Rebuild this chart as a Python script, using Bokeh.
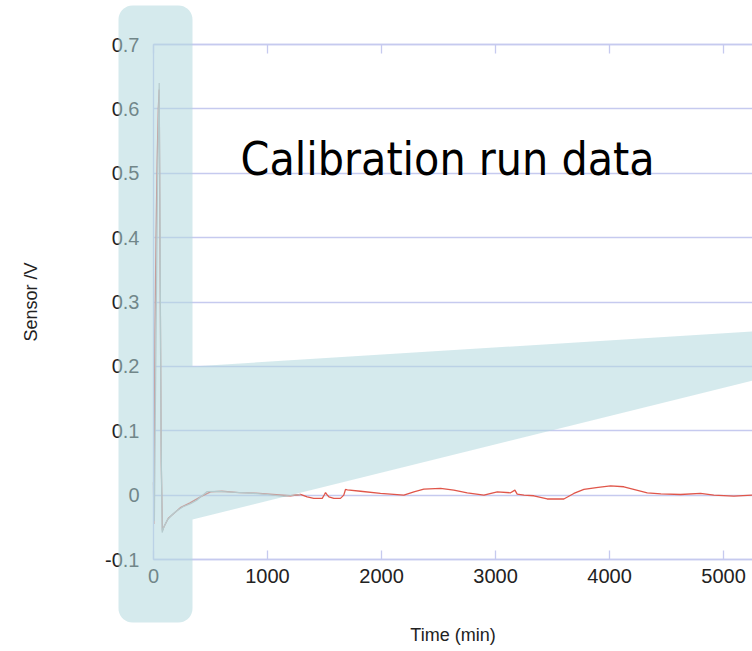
import numpy as np
from bokeh.plotting import figure
from bokeh.models import (LinearAxis, FixedTicker, PolyAnnotation, BoxAnnotation,
                          Label, Range1d)
from bokeh.embed import file_html
from bokeh.resources import INLINE

# ---------------- data ----------------
gray_time = [0, 8, 20, 35, 50, 58, 66, 76, 90, 120, 160, 208, 260, 325, 380,
             412, 471, 558, 702, 851, 997, 1140, 1289]
gray_sensor = [0.02, -0.04, 0.20, 0.48, 0.64, 0.40, 0.10, -0.058, -0.050, -0.039,
               -0.031, -0.024, -0.018, -0.0135, -0.008, -0.003, 0.0056, 0.006,
               0.0045, 0.003, 0.001, -0.002, 0.001]

red_time = [0, 3, 12, 22, 32, 42, 50, 58, 68, 78, 95, 130, 180, 240, 320, 420,
            500, 600, 750, 900, 1050, 1200, 1289, 1348, 1406, 1480, 1500, 1509,
            1525, 1538, 1582, 1640, 1669, 1684, 1700, 1816, 1991, 2196, 2284,
            2371, 2518, 2634, 2752, 2898, 3015, 3132, 3170, 3190, 3250, 3336,
            3453, 3599, 3687, 3775, 3900, 4009, 4126, 4331, 4450, 4623, 4798,
            4915, 5091, 5254]
red_sensor = [0.02, -0.045, 0.25, 0.40, 0.52, 0.60, 0.63, 0.35, 0.05, -0.055,
              -0.048, -0.036, -0.028, -0.019, -0.012, -0.002, 0.005, 0.006,
              0.004, 0.003, 0.001, -0.001, 0.001, -0.0026, -0.005, -0.005, 0.001,
              0.004, 0.0, -0.0026, -0.005, -0.005, 0.0, 0.0088, 0.008, 0.006,
              0.0026, 0.0, 0.005, 0.0093, 0.0104, 0.0078, 0.0036, 0.0, 0.005,
              0.0036, 0.0078, 0.0015, 0.0, -0.001, -0.006, -0.006, 0.0026, 0.0088,
              0.012, 0.0145, 0.013, 0.0036, 0.002, 0.001, 0.0026, 0.0, -0.0015, 0.0]

x_ticks = [0, 1000, 2000, 3000, 4000, 5000]
x_tick_labels = ["0", "1000", "2000", "3000", "4000", "5000"]
y_ticks = [-0.1, 0, 0.1, 0.2, 0.3, 0.4, 0.5, 0.6, 0.7]
y_tick_labels = ["-0.1", "0", "0.1", "0.2", "0.3", "0.4", "0.5", "0.6", "0.7"]

title_text = "Calibration run data"
x_label = "Time (min)"
y_label = "Sensor /V"

# ---------------- layout constants ----------------
GRID = "#c6caef"
TEXT = "#222222"
FONT = "Liberation Sans"
W, H = 752, 651
X0, X1 = 0, 5254            # visible data extent of the chart area
Y0, Y1 = -0.1, 0.7
FL, FT, FB = 153, 44, 559   # pixel position of chart area edges
PX_X = (W - FL) / (X1 - X0)
PX_Y = (FB - FT) / (Y1 - Y0)

# the frame covers the whole canvas so that the highlight may leave the axes area
p = figure(width=W, height=H, output_backend="svg", toolbar_location=None,
           x_range=Range1d(X0 - FL / PX_X, X1),
           y_range=Range1d(Y0 - (H - FB) / PX_Y, Y1 + FT / PX_Y),
           min_border=0)
p.outline_line_color = None
p.background_fill_color = "white"
p.border_fill_color = "white"

p.xgrid.visible = False
yg = p.ygrid[0]
yg.ticker = FixedTicker(ticks=y_ticks)
yg.grid_line_color = GRID
yg.grid_line_width = 1.3
if "cross_bounds" in yg.properties():
    yg.cross_bounds = (X0, X1)
else:
    p.add_layout(BoxAnnotation(left=X0 - FL / PX_X, right=X0,
                               bottom=Y0 - (H - FB) / PX_Y, top=Y1 + FT / PX_Y,
                               fill_color="white", fill_alpha=1.0, line_color=None,
                               level="underlay"))

# bottom axis
xa = p.xaxis[0]
xa.fixed_location = Y0
xa.bounds = (X0, X1)
xa.ticker = FixedTicker(ticks=x_ticks)
xa.major_label_overrides = dict(zip(x_ticks, x_tick_labels))
xa.axis_line_color = GRID
xa.axis_line_width = 1.3
xa.major_tick_line_color = GRID
xa.major_tick_line_width = 1.3
xa.major_tick_in = 9
xa.major_tick_out = 0
xa.minor_tick_line_color = None
xa.major_label_text_font = FONT
xa.major_label_text_font_size = "20px"
xa.major_label_text_color = TEXT
xa.major_label_standoff = 9
xa.axis_label = x_label
xa.axis_label_text_font = FONT
xa.axis_label_text_font_size = "18px"
xa.axis_label_text_font_style = "normal"
xa.axis_label_text_color = TEXT
xa.axis_label_standoff = 39

# left axis
ya = p.yaxis[0]
ya.fixed_location = X0
ya.bounds = (Y0, Y1)
ya.ticker = FixedTicker(ticks=y_ticks)
ya.major_label_overrides = dict(zip(y_ticks, y_tick_labels))
ya.axis_line_color = GRID
ya.axis_line_width = 1.3
ya.major_tick_line_color = GRID
ya.major_tick_in = 0
ya.major_tick_out = 0
ya.minor_tick_line_color = None
ya.major_label_text_font = FONT
ya.major_label_text_font_size = "20px"
ya.major_label_text_color = TEXT
ya.major_label_standoff = 14
ya.axis_label = y_label
ya.axis_label_text_font = FONT
ya.axis_label_text_font_size = "18px"
ya.axis_label_text_font_style = "normal"
ya.axis_label_text_color = TEXT
ya.axis_label_standoff = 61

# top axis line with inward ticks, no labels
top = LinearAxis(ticker=FixedTicker(ticks=x_ticks), fixed_location=Y1, bounds=(X0, X1),
                 axis_line_color=GRID, axis_line_width=1.3,
                 major_tick_line_color=GRID, major_tick_line_width=1.3,
                 major_tick_in=9, major_tick_out=0, minor_tick_line_color=None,
                 major_label_text_color=None, major_label_text_font_size="10px",
                 major_label_standoff=0)
p.add_layout(top, "above")

# data lines
p.line(red_time, red_sensor, line_color="#e0564a", line_width=1.3)
p.line(gray_time, gray_sensor, line_color="#b8b8b8", line_width=1.2)

# highlight box (rounded) with its callout, as one shape
FILL = "#b3d8de"
ALPHA = 0.55
box_left, box_right = X0 - 35 / PX_X, X0 + 39 / PX_X
box_top, box_bottom = Y1 + 39 / PX_Y, Y0 - 63 / PX_Y
rx, ry = 14 / PX_X, 14 / PX_Y
corners = [(box_right - rx, box_top - ry, 0.0), (box_left + rx, box_top - ry, 0.5 * np.pi),
           (box_left + rx, box_bottom + ry, np.pi), (box_right - rx, box_bottom + ry, 1.5 * np.pi)]
bx, by = [], []
for cx, cy, a0 in corners:
    ang = a0 + np.linspace(0, 0.5 * np.pi, 10)
    bx += list(cx + rx * np.cos(ang))
    by += list(cy + ry * np.sin(ang))
# callout wedge from the box's right side to the right edge
bx += [box_right, X1, X1, box_right]
by += [-0.0379, 0.178, 0.2542, 0.2]
p.add_layout(PolyAnnotation(xs=bx, ys=by, fill_color=FILL, fill_alpha=ALPHA,
                            line_color=None))

p.add_layout(Label(x=763, y=0.5229, text=title_text,
                   text_font="DejaVu Sans Condensed", text_font_size="46px",
                   text_color="black", text_baseline="alphabetic"))

open("out.html", "w").write(file_html(p, INLINE))
